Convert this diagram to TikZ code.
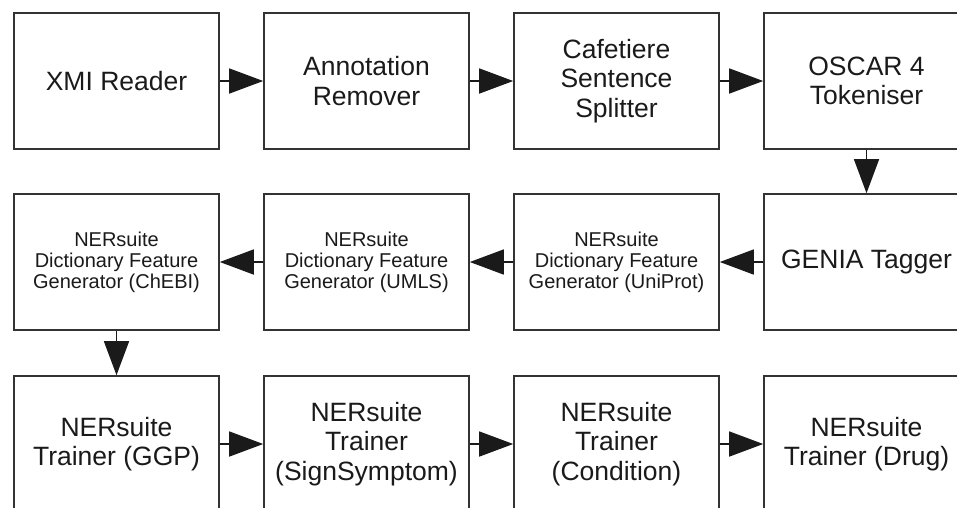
\documentclass[tikz,border=0pt]{standalone}
\usepackage{fontspec}
\setmainfont{Liberation Sans}
\usetikzlibrary{arrows.meta}
\definecolor{edge}{HTML}{333333}
\definecolor{ink}{HTML}{1A1A1A}
\tikzset{
  stagebox/.style={draw=edge, line width=1.6pt, fill=white, minimum width=205pt, minimum height=136pt,
    inner sep=2pt, align=center, text=ink, font=\fontsize{26.5}{29.5}\selectfont},
  smallbox/.style={stagebox, font=\fontsize{20}{21}\selectfont},
  flow/.style={draw=ink, line width=1.5pt, -{Triangle[length=34pt, width=25pt]}}
}
\begin{document}
\begin{tikzpicture}[x=1pt, y=-1pt]
\clip (0,0) rectangle (957,507);
\fill[white] (0,0) rectangle (957,507);
% row 1
\node[stagebox] (xmi) at (116.5,81) {XMI Reader};
\node[stagebox] (rem) at (366.5,81) {Annotation\\Remover};
\node[stagebox] (caf) at (616.5,81) {Cafetiere\\Sentence\\Splitter};
\node[stagebox] (osc) at (866.5,81) {OSCAR 4\\Tokeniser};
% row 2
\node[smallbox] (chebi) at (116.5,262) {NERsuite\\Dictionary Feature\\Generator (ChEBI)};
\node[smallbox] (umls) at (366.5,262) {NERsuite\\Dictionary Feature\\Generator (UMLS)};
\node[smallbox] (uni) at (616.5,262) {NERsuite\\Dictionary Feature\\Generator (UniProt)};
\node[stagebox] (gen) at (866.5,262) {GENIA Tagger};
% row 3
\node[stagebox] (ggp) at (116.5,444) {NERsuite\\Trainer (GGP)};
\node[stagebox] (sign) at (366.5,444) {NERsuite\\Trainer\\(SignSymptom)};
\node[stagebox] (cond) at (616.5,444) {NERsuite\\Trainer\\(Condition)};
\node[stagebox] (drug) at (866.5,444) {NERsuite\\Trainer (Drug)};
% connectors
\draw[flow] (xmi) -- (rem);
\draw[flow] (rem) -- (caf);
\draw[flow] (caf) -- (osc);
\draw[flow] (osc) -- (gen);
\draw[flow] (gen) -- (uni);
\draw[flow] (uni) -- (umls);
\draw[flow] (umls) -- (chebi);
\draw[flow] (chebi) -- (ggp);
\draw[flow] (ggp) -- (sign);
\draw[flow] (sign) -- (cond);
\draw[flow] (cond) -- (drug);
\end{tikzpicture}
\end{document}
